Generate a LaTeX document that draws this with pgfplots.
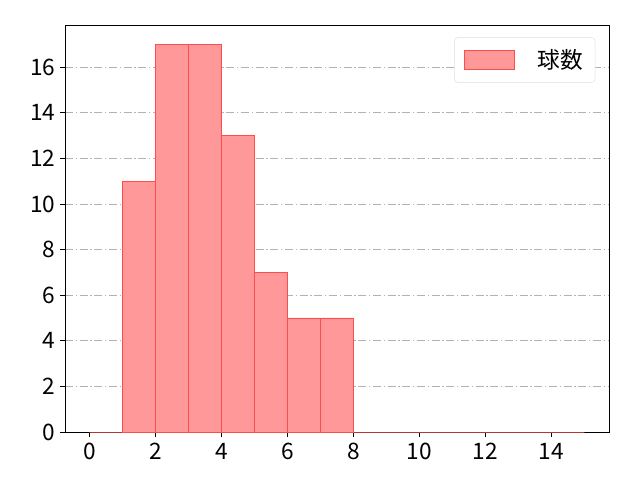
\documentclass[border=0pt]{standalone}
\usepackage{pgfplots}
\pgfplotsset{compat=1.18}
\usepackage{fontspec}
\setmainfont{Noto Sans CJK JP}
\begin{document}
\begin{tikzpicture}
\useasboundingbox (-48.75pt,-36pt) rectangle (431.25pt,324pt);
\begin{axis}[
    at={(0pt,0pt)}, anchor=south west,
    scale only axis,
    width=408pt, height=305.25pt,
    xmin=-0.75, xmax=15.75,
    ymin=0, ymax=17.85,
    xtick={0,2,...,14},
    ytick={0,2,...,16},
    tick align=outside,
    major tick length=3.65pt,
    xtick pos=bottom, ytick pos=left,
    ymajorgrids,
    major grid style={gray!60, line width=0.6pt, dash pattern=on 6pt off 2pt on 1pt off 2pt},
    axis line style={line width=0.6pt},
    tick style={line width=0.6pt, black},
    ticklabel style={font=\fontsize{17}{19}\selectfont},
    xticklabel style={yshift=-1pt},
    /pgf/number format/assume math mode=true,
    legend style={at={(0.975,0.97)}, anchor=north east, draw=gray!25, rounded corners=3pt,
        font=\fontsize{17}{19}\selectfont, inner xsep=7pt, inner ysep=7pt},
    legend image code/.code={\draw[#1, sharp corners] (0pt,-7pt) rectangle (38pt,7pt);},
]
\addplot[ybar interval, fill=red!40, draw=red!70, line width=0.6pt] coordinates {
    (0,0) (1,11) (2,17) (3,17) (4,13) (5,7) (6,5) (7,5)
    (8,0) (9,0) (10,0) (11,0) (12,0) (13,0) (14,0) (15,0)
};
\addlegendentry{\hspace{15pt}球数\hspace{2pt}}
\end{axis}
\end{tikzpicture}
\end{document}
